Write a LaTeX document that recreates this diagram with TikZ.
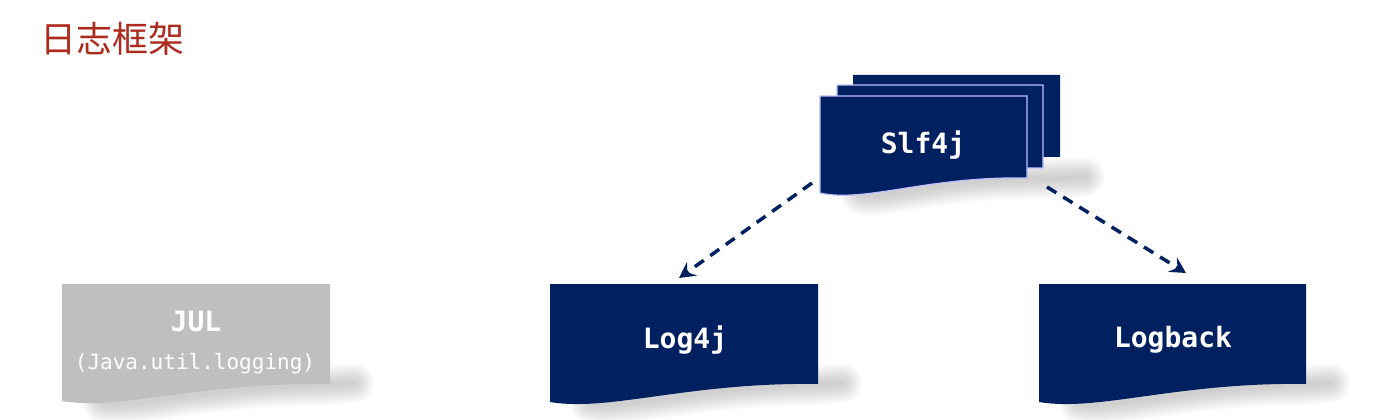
\documentclass[tikz,border=0pt]{standalone}
\usepackage{fontspec}
\setmonofont{DejaVu Sans Mono}
\newfontfamily\cjk{Noto Sans CJK SC}
\usetikzlibrary{arrows.meta}
\definecolor{navy}{RGB}{0,32,96}
\definecolor{julgray}{RGB}{191,191,191}
\definecolor{titlered}{RGB}{172,42,30}
% x1 ytop x2 yR yL style
\newcommand\docbox[6]{%
  \fill[#6] ({#1},{#2}) -- ({#3},{#2}) -- ({#3},{#4})
    .. controls ({#1+0.52*(#3-#1)},{#4-2}) and ({#1+0.22*(#3-#1)},{#5+10}) .. ({#1},{#5}) -- cycle;}
% x1 x2 yR yL extra-right
\newcommand\docshadow[5]{%
  \foreach \k in {40,37,34,31,28,25,22,19,16,13,10,7,4}{%
    \draw[black, opacity=0.017, line width=\k pt, line cap=round, line join=round]
      ({#1+40},{#4+1}) .. controls ({#1+0.22*(#2-#1)+8},{#4+9}) and ({#1+0.52*(#2-#1)+8},{#3+0}) .. ({#2},{#3-1})
      -- ({#2+#5},{#3-3});}}
\tikzset{
  lbl/.style={font=\ttfamily\bfseries\fontsize{28}{30}\selectfont, text=white, inner sep=0pt},
  sublbl/.style={font=\ttfamily\fontsize{21}{24}\selectfont, text=white, inner sep=0pt},
  depend/.style={draw=navy, line width=3.5pt, dash pattern=on 11pt off 8pt,
    -{Stealth[length=16pt,width=17pt,inset=6pt]}}
}
\begin{document}
\begin{tikzpicture}[x=1pt,y=-1pt]
\useasboundingbox (0,0) rectangle (1381,420);
\node[font=\cjk\fontsize{36}{38}\selectfont, text=titlered, inner sep=0pt] (title) at (112,39) {日志框架};
% shadows
\docshadow{62}{330}{386}{401}{24}
\docshadow{550}{818}{386}{402}{24}
\docshadow{1039}{1306}{386}{402}{24}
\docshadow{820}{1027}{180}{193}{58}
% JUL
\docbox{62}{284}{330}{384}{401}{julgray}
\node[lbl] (jul) at (196,321) {JUL};
\node[sublbl] (julsub) at (195,364) {(Java.util.logging)};
% Log4j
\docbox{550}{284}{818}{384}{402}{navy}
\node[lbl] (log4j) at (685,340) {Log4j};
% Logback
\docbox{1039}{284}{1306}{384}{402}{navy}
\node[lbl] (logback) at (1173,340) {Logback};
% Slf4j stack
\docbox{853}{75}{1060}{157}{172}{navy}
\docbox{837}{85}{1043}{168}{183}{navy, draw=white!75!blue, line width=1.2pt}
\docbox{820}{96}{1027}{178}{193}{navy, draw=white!75!blue, line width=1.2pt}
\node[lbl] (slf) at (923,145) {Slf4j};
% connectors
\coordinate (a1s) at (812,183);
\coordinate (a1e) at (679,278);
\coordinate (a2s) at (1047,187);
\coordinate (a2e) at (1186,273);
\draw[depend] (a1s) -- (a1e);
\draw[depend] (a2s) -- (a2e);
\end{tikzpicture}
\end{document}
